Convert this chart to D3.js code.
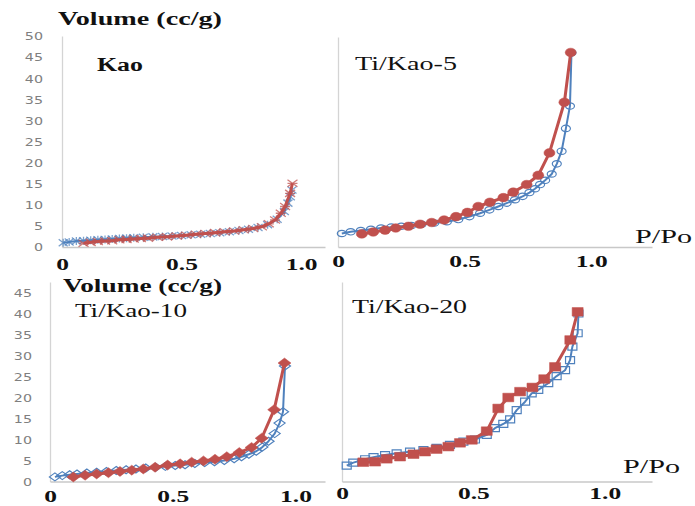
<!DOCTYPE html>
<html>
<head>
<meta charset="utf-8">
<script src="https://cdn.jsdelivr.net/npm/d3@7"></script>
<style>
  body { margin: 0; background: #fff; }
  svg { display: block; }
</style>
</head>
<body>
<svg id="chart" width="695" height="506"></svg>
<script>
// [P/Po, volume cc/g]; "ads" = blue open markers, "des" = red filled
const kaoAds = [[0.005,1.0],[0.03,1.2],[0.06,1.4],[0.09,1.5],[0.12,1.6],[0.15,1.7],[0.18,1.8],[0.21,1.9],[0.24,2.0],[0.27,2.1],[0.30,2.2],[0.34,2.3],[0.38,2.4],[0.42,2.5],[0.46,2.6],[0.50,2.7],[0.54,2.9],[0.58,3.0],[0.62,3.2],[0.66,3.4],[0.70,3.6],[0.74,3.9],[0.78,4.2],[0.82,4.6],[0.86,5.3],[0.90,6.6],[0.93,8.4],[0.945,10.4],[0.955,11.9],[0.962,13.5]];
const kaoDes = [[0.09,0.9],[0.12,1.1],[0.15,1.3],[0.18,1.4],[0.21,1.5],[0.24,1.7],[0.27,1.8],[0.30,1.9],[0.33,2.0],[0.36,2.1],[0.40,2.3],[0.44,2.4],[0.48,2.6],[0.52,2.8],[0.56,3.0],[0.60,3.2],[0.64,3.4],[0.68,3.6],[0.72,3.8],[0.76,4.1],[0.80,4.4],[0.836,4.8],[0.865,5.5],[0.891,6.4],[0.915,8.0],[0.933,9.6],[0.954,12.7],[0.964,15.1]];

const tk5Ads = [[0.015,3.2],[0.05,3.6],[0.09,3.9],[0.13,4.2],[0.17,4.5],[0.21,4.7],[0.25,4.9],[0.29,5.1],[0.33,5.4],[0.38,5.7],[0.43,6.0],[0.475,6.5],[0.519,7.2],[0.561,8.0],[0.598,8.8],[0.633,9.6],[0.666,10.4],[0.699,11.2],[0.729,12.0],[0.756,12.9],[0.778,13.8],[0.798,14.8],[0.818,15.8],[0.844,17.3],[0.864,19.7],[0.883,22.7],[0.900,28.1],[0.916,33.4],[0.922,46.0]];
const tk5Des = [[0.094,3.1],[0.139,3.55],[0.186,4.0],[0.228,4.5],[0.278,4.9],[0.324,5.4],[0.370,5.8],[0.419,6.4],[0.466,7.2],[0.511,8.2],[0.554,9.6],[0.600,10.6],[0.653,11.7],[0.692,13.0],[0.745,14.8],[0.791,17.0],[0.835,22.3],[0.894,34.3],[0.919,46.1]];

const tk10Ads = [[0.02,1.1],[0.05,1.4],[0.08,1.6],[0.11,1.8],[0.15,2.0],[0.19,2.2],[0.23,2.4],[0.27,2.6],[0.31,2.8],[0.35,3.0],[0.39,3.2],[0.43,3.4],[0.47,3.6],[0.51,3.8],[0.55,4.0],[0.59,4.3],[0.63,4.5],[0.67,4.7],[0.71,5.0],[0.75,5.4],[0.78,5.9],[0.81,6.5],[0.84,7.2],[0.865,8.2],[0.89,9.6],[0.915,11.4],[0.935,13.9],[0.949,16.6],[0.957,27.5]];
const tk10Des = [[0.095,1.1],[0.143,1.5],[0.19,1.8],[0.238,2.1],[0.285,2.4],[0.333,2.7],[0.38,3.0],[0.428,3.4],[0.479,3.9],[0.53,4.2],[0.577,4.6],[0.625,4.9],[0.672,5.3],[0.72,5.9],[0.771,6.9],[0.821,8.1],[0.862,10.3],[0.913,17.1],[0.955,28.2]];

const tk20Ads = [[0.018,3.8],[0.043,4.5],[0.088,5.3],[0.12,5.8],[0.164,6.3],[0.208,6.7],[0.259,7.1],[0.31,7.5],[0.36,8.0],[0.411,8.7],[0.462,9.5],[0.506,10.0],[0.551,11.1],[0.582,12.7],[0.614,13.7],[0.64,14.8],[0.665,17.0],[0.697,19.0],[0.722,21.0],[0.747,21.8],[0.785,23.4],[0.817,25.1],[0.849,26.5],[0.868,28.9],[0.877,32.1],[0.897,35.3],[0.90,40.0]];
const tk20Des = [[0.081,4.6],[0.126,4.7],[0.17,5.4],[0.221,5.9],[0.272,6.5],[0.316,7.1],[0.36,7.7],[0.405,8.3],[0.449,9.2],[0.494,9.9],[0.551,12.0],[0.595,17.4],[0.633,20.0],[0.678,21.4],[0.725,22.4],[0.770,24.4],[0.811,27.3],[0.869,33.7],[0.897,40.4]];

const yTicks50 = [0,5,10,15,20,25,30,35,40,45,50];
const yTicks45 = [0,5,10,15,20,25,30,35,40,45];
const xTicks = [0, 0.5, 1.0];
const sampleNames = ["Kao", "Ti/Kao-5", "Ti/Kao-10", "Ti/Kao-20"];

const RED = "#c0504d", BLUE = "#4f81bd";
const svg = d3.select("#chart");

const panels = [
  { name: sampleNames[0], ads: kaoAds, des: kaoDes, shape: "cross",
    xr: [62, 325], xMax: 1.1, yr: [247, 36], yMax: 50, yTicks: yTicks50, yPad: 19,
    xLabY: 23, nameXY: [97, 71], nameW: 46, bold: true, vol: [58, 25, 164] },
  { name: sampleNames[1], ads: tk5Ads, des: tk5Des, shape: "circle",
    xr: [338, 652], xMax: 1.24, yr: [247, 37], yMax: 49.76, yTicks: [],
    xLabY: 20, nameXY: [355, 70], nameW: 102, ppo: [635, 243] },
  { name: sampleNames[2], ads: tk10Ads, des: tk10Des, shape: "diamond",
    xr: [50, 325], xMax: 1.12, yr: [481.5, 282], yMax: 47.5, yTicks: yTicks45, yPad: 18,
    xLabY: 20.5, nameXY: [75, 317], nameW: 112, vol: [63, 292, 159] },
  { name: sampleNames[3], ads: tk20Ads, des: tk20Des, shape: "square",
    xr: [342, 652], xMax: 1.18, yr: [481.5, 282], yMax: 47.5, yTicks: [],
    xLabY: 18, nameXY: [352, 313], nameW: 115, ppo: [623, 473] }
];

function markerPath(shape, open, red) {
  if (shape === "circle") {
    const rx = open ? 4.5 : 5.5, ry = open ? 3.2 : 4.3;
    return `M${-rx},0A${rx},${ry} 0 1,0 ${rx},0A${rx},${ry} 0 1,0 ${-rx},0Z`;
  }
  if (shape === "diamond") {
    const w = open ? 5.5 : 6.5, h = open ? 4 : 5;
    return `M0,${-h}L${w},0L0,${h}L${-w},0Z`;
  }
  if (shape === "square") {
    const w = open ? 4.5 : 5.5, h = open ? 3.5 : 4.3;
    return `M${-w},${-h}H${w}V${h}H${-w}Z`;
  }
  // Kao: blue asterisk, red cross
  return red ? "M-5,-3.5L5,3.5M-5,3.5L5,-3.5M-5,0H5" : "M-4.5,-3.5L4.5,3.5M-4.5,3.5L4.5,-3.5M0,-4V4";
}

panels.forEach(p => {
  const x = d3.scaleLinear().domain([0, p.xMax]).range(p.xr);
  const y = d3.scaleLinear().domain([0, p.yMax]).range(p.yr);
  const g = svg.append("g");

  // y axis
  const ya = g.append("g").attr("transform", `translate(${p.xr[0]},0)`)
    .call(d3.axisLeft(y).tickValues(p.yTicks).tickSize(0).tickSizeOuter(0));
  ya.select(".domain").attr("stroke", "#d4d4d4").attr("stroke-width", 1.3);
  ya.selectAll("text").attr("x", 0).attr("dy", "0.35em")
    .attr("transform", `translate(${-p.yPad},0) scale(1.3,1)`)
    .attr("fill", "#7f7f7f").style("font", "11px 'DejaVu Sans'");

  // x axis
  const xa = g.append("g").attr("transform", `translate(0,${p.yr[0]})`)
    .call(d3.axisBottom(x).tickValues(xTicks).tickSize(0).tickSizeOuter(0)
      .tickFormat(d => d === 0 ? "0" : d3.format(".1f")(d)));
  xa.select(".domain").attr("stroke", "#c8c8c8").attr("stroke-width", 1.3);
  xa.selectAll("text").attr("y", p.xLabY).attr("dy", 0)
    .attr("transform", "scale(1.5,1)")
    .attr("fill", "#111").style("font", "bold 17px 'Liberation Serif'");

  const line = d3.line().x(d => x(d[0])).y(d => y(d[1]));

  [[p.ads, BLUE, true], [p.des, RED, false]].forEach(([data, color, open]) => {
    g.append("path").datum(data).attr("d", line)
      .attr("fill", "none").attr("stroke", color)
      .attr("stroke-width", open ? 2 : 3).attr("stroke-linejoin", "round");
    const cross = p.shape === "cross";
    g.selectAll(null).data(data).join("path")
      .attr("transform", d => `translate(${x(d[0])},${y(d[1])})`)
      .attr("d", markerPath(p.shape, open, !open))
      .attr("fill", open || cross ? "none" : color)
      .attr("stroke", color)
      .attr("stroke-opacity", cross ? 0.75 : 1)
      .attr("stroke-width", cross ? 1.3 : (open ? 1.2 : 0.5));
  });

  // sample name
  g.append("text").attr("x", p.nameXY[0]).attr("y", p.nameXY[1])
    .attr("textLength", p.nameW).attr("lengthAdjust", "spacingAndGlyphs")
    .attr("fill", "#111").style("font", `${p.bold ? "bold " : ""}18px 'Liberation Serif'`)
    .text(p.name);

  if (p.vol) {
    g.append("text").attr("x", p.vol[0]).attr("y", p.vol[1])
      .attr("textLength", p.vol[2]).attr("lengthAdjust", "spacingAndGlyphs")
      .attr("fill", "#111").style("font", "bold 18px 'Liberation Serif'")
      .text("Volume (cc/g)");
  }
  if (p.ppo) {
    g.append("text").attr("x", p.ppo[0]).attr("y", p.ppo[1])
      .attr("textLength", 57).attr("lengthAdjust", "spacingAndGlyphs")
      .attr("fill", "#111").style("font", "18px 'Liberation Serif'")
      .text("P/Po");
  }
});
</script>
</body>
</html>
